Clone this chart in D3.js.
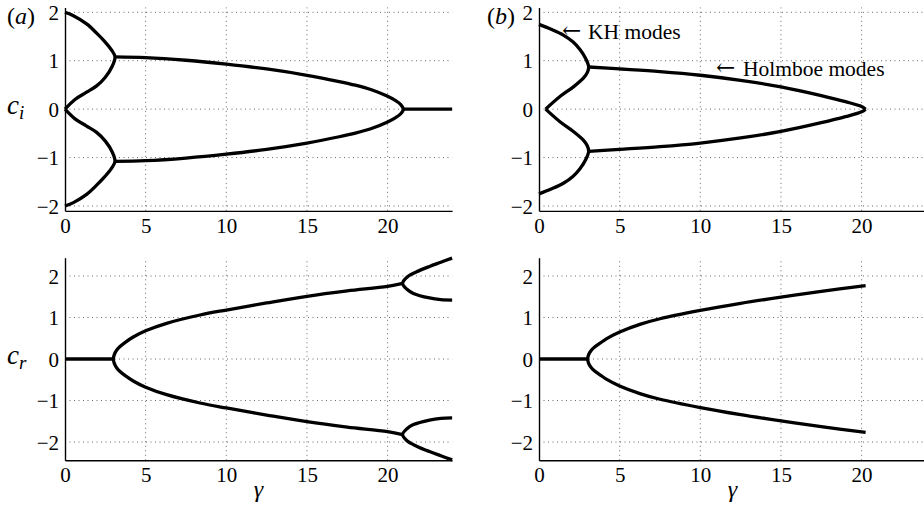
<!DOCTYPE html>
<html>
<head>
<meta charset="utf-8">
<script src="https://cdn.jsdelivr.net/npm/d3@7"></script>
<style>
  body { margin: 0; background: #fff; }
  svg { display: block; }
  text { font-family: "Liberation Serif", "Times New Roman", serif; fill: #000; }
</style>
</head>
<body>
<svg id="chart" width="924" height="517"></svg>
<script>
// ---- axis ticks ----
const gammaTicks = [0, 5, 10, 15, 20];
const cTicks = [-2, -1, 0, 1, 2];
const gammaDomain = [0, 24];
const ciDomain = [-2.1, 2.1];
const crDomain = [-2.44, 2.44];

// ---- (a) imaginary phase speed c_i against gamma ----
const aCiKhUpper = [[0,2.0],[0.52,1.93],[1.34,1.76],[1.96,1.57],[2.48,1.39],[2.89,1.22],[3.1,1.08],
  [2.92,0.88],[2.5,0.66],[1.96,0.48],[1.34,0.35],[0.62,0.2],[0,0]];
const aCiKhLower = [[0,-2.0],[0.52,-1.93],[1.34,-1.76],[1.96,-1.57],[2.48,-1.39],[2.89,-1.22],[3.1,-1.08],
  [2.92,-0.88],[2.5,-0.66],[1.96,-0.48],[1.34,-0.35],[0.62,-0.2],[0,0]];
const aCiHolmboe = [[3.1,1.08],[5,1.065],[7.5,1.01],[10,0.93],[12.5,0.83],[15,0.70],[17,0.57],[18,0.495],
  [19,0.40],[20,0.265],[20.5,0.175],[20.8,0.1],[20.97,0],[20.8,-0.1],[20.5,-0.175],[20,-0.265],[19,-0.40],
  [18,-0.495],[17,-0.57],[15,-0.70],[12.5,-0.83],[10,-0.93],[7.5,-1.01],[5,-1.065],[3.1,-1.08]];
const aCiStable = [[20.97,0],[24,0]];

// ---- (b) imaginary phase speed c_i against gamma ----
const bCiKhUpper = [[0,1.75],[0.75,1.65],[1.51,1.53],[2.1,1.39],[2.54,1.23],[2.9,1.04],[3.08,0.87],
  [3.0,0.76],[2.75,0.64],[2.13,0.46],[1.3,0.26],[0.41,0]];
const bCiKhLower = [[0,-1.75],[0.75,-1.65],[1.51,-1.53],[2.1,-1.39],[2.54,-1.23],[2.9,-1.04],[3.08,-0.87],
  [3.0,-0.76],[2.75,-0.64],[2.13,-0.46],[1.3,-0.26],[0.41,0]];
const bCiHolmboeUpper = [[3.08,0.87],[5,0.83],[7.5,0.775],[10,0.70],[12.5,0.595],[15,0.46],[17.5,0.28],
  [19,0.155],[20,0.055],[20.25,0]];
const bCiHolmboeLower = [[3.08,-0.87],[5,-0.83],[7.5,-0.775],[10,-0.70],[12.5,-0.595],[15,-0.46],[17.5,-0.28],
  [19,-0.155],[20,-0.055],[20.25,0]];

// ---- (a) real phase speed c_r against gamma ----
const aCrFlat = [[0,0],[3.0,0]];
const aCrMain = [[20.93,1.82],[20,1.75],[17.5,1.64],[15,1.51],[12.5,1.35],[10,1.18],[8.37,1.06],[6.3,0.86],
  [5,0.68],[4.23,0.53],[3.8,0.42],[3.41,0.30],[3.2,0.21],[3.05,0.1],[3.0,0],[3.05,-0.1],[3.2,-0.21],
  [3.41,-0.30],[3.8,-0.42],[4.23,-0.53],[5,-0.68],[6.3,-0.86],[8.37,-1.06],[10,-1.18],[12.5,-1.35],
  [15,-1.51],[17.5,-1.64],[20,-1.75],[20.93,-1.82]];
const aCrSplitUpper = [[24,2.43],[23.3,2.33],[22.6,2.23],[21.8,2.10],[21.2,1.97],[20.93,1.82],
  [21.2,1.68],[21.6,1.58],[22.6,1.47],[23.3,1.43],[24,1.42]];
const aCrSplitLower = [[24,-2.43],[23.3,-2.33],[22.6,-2.23],[21.8,-2.10],[21.2,-1.97],[20.93,-1.82],
  [21.2,-1.68],[21.6,-1.58],[22.6,-1.47],[23.3,-1.43],[24,-1.42]];

// ---- (b) real phase speed c_r against gamma ----
const bCrFlat = [[0,0],[3.02,0]];
const bCrMain = [[20.25,1.77],[17.5,1.63],[15,1.49],[12.5,1.34],[10,1.17],[7.5,0.97],[6.3,0.84],[5,0.65],
  [4.2,0.49],[3.78,0.38],[3.45,0.29],[3.22,0.2],[3.07,0.1],[3.02,0],[3.07,-0.1],[3.22,-0.2],[3.45,-0.29],
  [3.78,-0.38],[4.2,-0.49],[5,-0.65],[6.3,-0.84],[7.5,-0.97],[10,-1.17],[12.5,-1.34],[15,-1.49],
  [17.5,-1.63],[20.25,-1.77]];

// ---- layout of the four panels ----
const svg = d3.select("#chart");
const serif = '"Liberation Serif", "Times New Roman", serif';
const unitX = 16.13;
const panels = [
  { left: 65,  top: 7.46,  bottom: 210.84, yDomain: ciDomain, tag: "(a)", tagX: 7, ylab: ["c", "i"],
    curves: [aCiKhUpper, aCiKhLower, aCiHolmboe, aCiStable] },
  { left: 539, top: 7.46,  bottom: 210.84, yDomain: ciDomain, tag: "(b)", tagX: 487, ylab: null,
    curves: [bCiKhUpper, bCiKhLower, bCiHolmboeUpper, bCiHolmboeLower] },
  { left: 65,  top: 257.7, bottom: 460.3,  yDomain: crDomain, tag: null, ylab: ["c", "r"], xlab: true,
    curves: [aCrFlat, aCrMain, aCrSplitUpper, aCrSplitLower] },
  { left: 539, top: 257.7, bottom: 460.3,  yDomain: crDomain, tag: null, ylab: null, xlab: true,
    curves: [bCrFlat, bCrMain] }
];

panels.forEach(p => {
  const x = d3.scaleLinear().domain(gammaDomain).range([p.left, p.left + unitX * 24]);
  const y = d3.scaleLinear().domain(p.yDomain).range([p.bottom, p.top]);
  const g = svg.append("g");

  // dotted grid
  const grid = g.append("g").attr("stroke", "#666").attr("stroke-width", 1)
    .attr("stroke-dasharray", "1,3.5").attr("fill", "none");
  gammaTicks.filter(t => t > 0).forEach(t => {
    grid.append("line").attr("x1", x(t)).attr("x2", x(t)).attr("y1", p.bottom).attr("y2", p.top);
  });
  cTicks.forEach(t => {
    grid.append("line").attr("x1", x(0)).attr("x2", x(24)).attr("y1", y(t)).attr("y2", y(t));
  });

  // x axis
  const xAxis = g.append("g").attr("transform", `translate(0,${p.bottom})`)
    .call(d3.axisBottom(x).tickValues(gammaTicks).tickSize(0).tickPadding(0).tickFormat(d3.format("d")));
  xAxis.select(".domain").attr("stroke", "#000").attr("stroke-width", 1.4);
  xAxis.selectAll("text").attr("dy", null).attr("y", 22)
    .style("font-family", serif).style("font-size", "21px").attr("fill", "#000");

  // y axis
  const yAxis = g.append("g").attr("transform", `translate(${p.left},0)`)
    .call(d3.axisLeft(y).tickValues(cTicks).tickSize(0).tickPadding(6).tickFormat(d3.format("d")));
  yAxis.select(".domain").attr("stroke", "#000").attr("stroke-width", 1.4);
  yAxis.selectAll("text").attr("dy", "0.34em")
    .style("font-family", serif).style("font-size", "21px").attr("fill", "#000");

  // curves
  const line = d3.line().x(d => x(d[0])).y(d => y(d[1])).curve(d3.curveCatmullRom.alpha(0.5));
  g.append("g").selectAll("path").data(p.curves).join("path")
    .attr("d", line).attr("fill", "none").attr("stroke", "#000")
    .attr("stroke-width", 3.3).attr("stroke-linejoin", "round").attr("stroke-linecap", "butt");

  // panel tag
  if (p.tag) {
    const t = g.append("text").attr("x", p.tagX).attr("y", 24).style("font-size", "24px");
    t.append("tspan").text("(");
    t.append("tspan").attr("font-style", "italic").text(p.tag[1]);
    t.append("tspan").text(")");
  }

  // y label
  if (p.ylab) {
    const ym = y(0);
    const t = g.append("text").attr("x", 7).attr("y", ym + 5).style("font-size", "27px").attr("font-style", "italic");
    t.append("tspan").text(p.ylab[0]);
    t.append("tspan").style("font-size", "19px").attr("dy", 5).text(p.ylab[1]);
  }

  // x label
  if (p.xlab) {
    g.append("text").attr("x", x(12)).attr("y", 497).attr("text-anchor", "middle")
      .style("font-size", "24px").attr("font-style", "italic").text("γ");
  }
});

// mode annotations in panel (b)
function note(xArrow, xText, yBase, label) {
  svg.append("text").attr("x", xArrow).attr("y", yBase - 1)
    .style("font-family", '"DejaVu Serif", serif').style("font-size", "23px").text("\u2190");
  svg.append("text").attr("x", xText).attr("y", yBase).style("font-size", "21.5px").text(label);
}
note(562, 588, 38.5, "KH modes");
note(716, 743, 75.5, "Holmboe modes");
</script>
</body>
</html>
